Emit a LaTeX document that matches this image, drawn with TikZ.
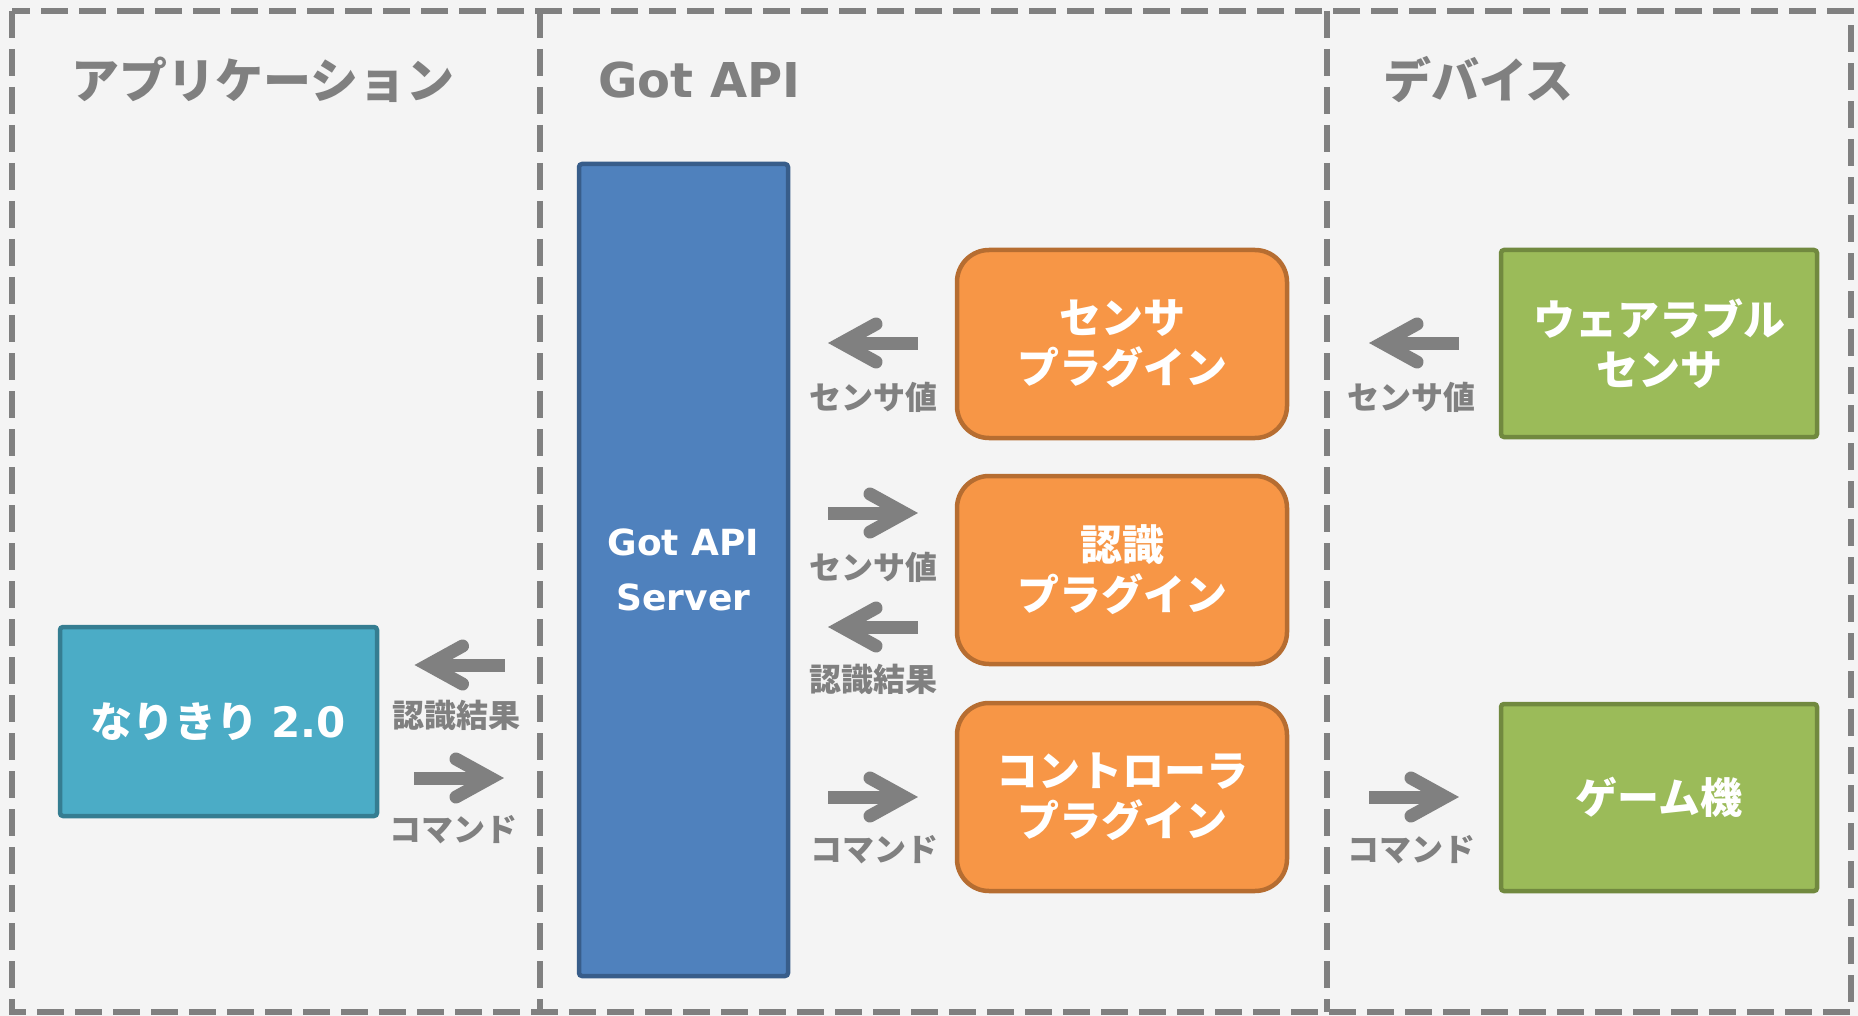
\documentclass[tikz,border=0pt]{standalone}
\usepackage{fontspec}
\setmainfont{Noto Sans CJK JP}
\newfontfamily\dvs{DejaVu Sans}
\definecolor{bgc}{HTML}{F4F4F4}
\definecolor{gr}{HTML}{808080}
\definecolor{bluef}{HTML}{4F81BD}\definecolor{bluel}{HTML}{385D8A}
\definecolor{orf}{HTML}{F79646}\definecolor{orl}{HTML}{B66D31}
\definecolor{grf}{HTML}{9BBB59}\definecolor{grl}{HTML}{71893F}
\definecolor{tlf}{HTML}{4BACC6}\definecolor{tll}{HTML}{357D91}
\tikzset{
  frame/.style={draw=gr, line width=5.5pt, dash pattern=on 27pt off 11pt},
  boxbase/.style={line width=4.5pt, inner sep=0pt, align=center, text=white,
    font=\fontsize{42}{50}\selectfont\bfseries},
  sqbox/.style={boxbase, rectangle, rounded corners=3pt},
  rbox/.style={boxbase, rectangle, rounded corners=32pt, fill=orf, draw=orl,
    minimum width=330pt, minimum height=188pt},
  title/.style={text=gr, font=\fontsize{48}{56}\selectfont\bfseries, anchor=west, inner sep=0pt},
  lbl/.style={text=gr, font=\fontsize{32}{38}\selectfont\bfseries, inner sep=0pt},
  garrow/.pic={
    \fill[gr] (-45,-6.5) rectangle (30,6.5);
    \draw[gr, line width=13pt, line cap=round, line join=miter] (-3,-19) -- (31.5,0) -- (-3,19);
  }
}
\begin{document}
\begin{tikzpicture}[x=1pt,y=-1pt]
\useasboundingbox (0,0) rectangle (1858,1016);
\fill[bgc] (0,0) rectangle (1858,1016);
% frames
\draw[frame] (12,11) rectangle (1851,1012);
\draw[frame] (540,11) -- (540,1012);
\draw[frame] (1327,11) -- (1327,1012);
% titles
\node[title] (t1) at (71,80) {アプリケーション};
\node[title] (t2) at (598,80) {\dvs Got API};
\node[title] (t3) at (1383,80) {デバイス};
% boxes
\node[sqbox, fill=bluef, draw=bluel, minimum width=209pt, minimum height=812pt,
  font=\fontsize{36}{55}\selectfont\bfseries\dvs] (srv) at (683.5,570) {Got API\\Server};
\node[rbox] (sp) at (1122,344) {センサ\\プラグイン};
\node[rbox] (rp) at (1122,570) {認識\\プラグイン};
\node[rbox] (cp) at (1122,797) {コントローラ\\プラグイン};
\node[sqbox, fill=grf, draw=grl, minimum width=316pt, minimum height=187pt] (ws) at (1659,343.5) {ウェアラブル\\センサ};
\node[sqbox, fill=grf, draw=grl, minimum width=316pt, minimum height=187pt] (gm) at (1659,797.5) {ゲーム機};
\node[sqbox, fill=tlf, draw=tll, minimum width=317pt, minimum height=189pt,
  font=\fontsize{42}{50}\selectfont\bfseries] (app) at (218.5,721.5) {なりきり\hspace{0.3em}{\dvs 2.0}};
% arrows
\pic[xscale=-1] (a1) at (873,343) {garrow};
\pic (a2) at (873,513) {garrow};
\pic[xscale=-1] (a3) at (873,627) {garrow};
\pic (a4) at (873,797) {garrow};
\pic[xscale=-1] (a5) at (459.5,665) {garrow};
\pic (a6) at (459,778) {garrow};
\pic[xscale=-1] (a7) at (1414,343) {garrow};
\pic (a8) at (1414,797) {garrow};
% labels
\node[lbl] (l1) at (873,397) {センサ値};
\node[lbl] (l2) at (873,567) {センサ値};
\node[lbl] (l3) at (873,679) {認識結果};
\node[lbl] (l4) at (874,850) {コマンド};
\node[lbl] (l5) at (456,715) {認識結果};
\node[lbl] (l6) at (453,830) {コマンド};
\node[lbl] (l7) at (1411,397) {センサ値};
\node[lbl] (l8) at (1411,850) {コマンド};
\end{tikzpicture}
\end{document}
